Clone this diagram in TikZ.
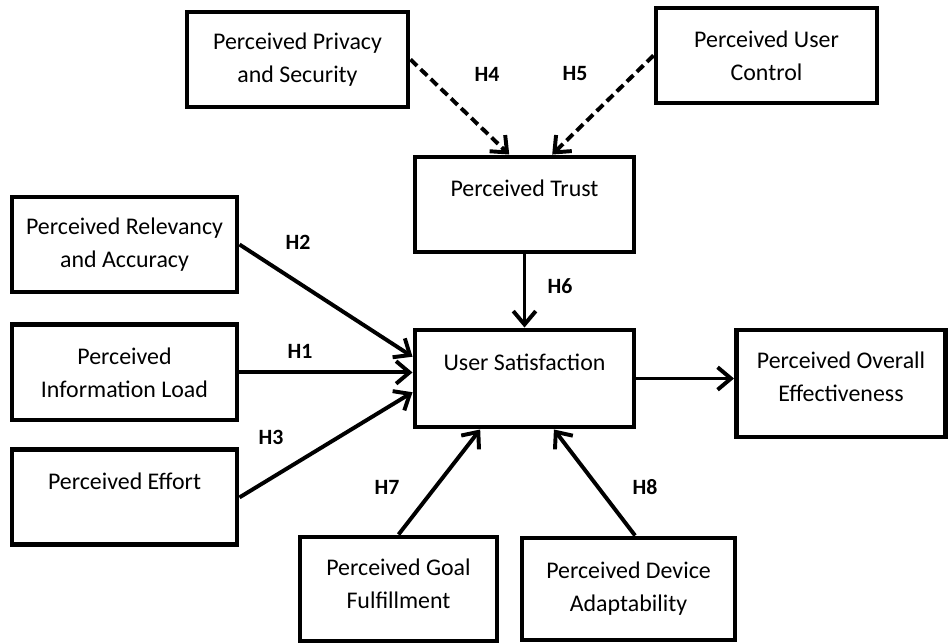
\documentclass[tikz,border=0pt]{standalone}
\usepackage{fontspec}
\setmainfont{Carlito}
\usetikzlibrary{arrows.meta, positioning}

\begin{document}
\begin{tikzpicture}[x=0.025cm, y=-0.025cm, >={Straight Barb[length=9.5pt,width=16pt]}, font=\fontsize{17}{23.5}\selectfont]
    % Styles
    \tikzstyle{factor} = [draw, rectangle, line width=3.5pt, minimum width=5.525cm, minimum height=2.375cm, align=center, inner sep=2pt]
    \tikzstyle{onetop} = [text depth=0.8cm]
    \tikzstyle{link} = [->, line width=2.8pt]
    \tikzstyle{dlink} = [link, dash pattern=on 6.5pt off 3.5pt]
    \tikzstyle{hyp} = [font=\fontsize{15.5}{17}\selectfont\bfseries]

    \useasboundingbox (0,0) rectangle (948,643);

    % Nodes
    \node (privacy) [factor] at (297.5,59.5) {Perceived Privacy\\and Security};
    \node (control) [factor] at (766.5,55.5) {Perceived User\\Control};
    \node (trust) [factor, onetop, minimum width=5.475cm] at (524.5,204.5) {Perceived Trust};

    % Left column
    \node (relev) [factor, minimum width=5.625cm] at (124.5,244.5) {Perceived Relevancy\\and Accuracy};
    \node (info) [factor, minimum width=5.625cm, below=0.7cm of relev] {Perceived\\Information Load};
    \node (effort) [factor, onetop, minimum width=5.625cm, below=0.625cm of info] {Perceived Effort};

    % Centre and right
    \node (us) [factor, onetop, minimum width=5.475cm, minimum height=2.425cm] at (524.5,378.5) {User Satisfaction};
    \node (overall) [factor, text depth=0.35cm, minimum width=5.225cm, minimum height=2.675cm] at (841,383.5) {Perceived Overall\\Effectiveness};

    % Bottom row
    \node (goal) [factor, text depth=0.25cm, minimum width=4.925cm, minimum height=2.6cm] at (398.5,589) {Perceived Goal\\Fulfillment};
    \node (device) [factor, minimum width=5.325cm, minimum height=2.55cm] at (628.5,589) {Perceived Device\\Adaptability};

    % Hypothesis labels
    \node (h1) [hyp] at (300,351) {H1};
    \node (h2) [hyp] at (298,242) {H2};
    \node (h3) [hyp] at (271,437) {H3};
    \node (h4) [hyp] at (487,74) {H4};
    \node (h5) [hyp] at (575,74) {H5};
    \node (h6) [hyp] at (560,286) {H6};
    \node (h7) [hyp] at (387,487) {H7};
    \node (h8) [hyp] at (645,487) {H8};

    % Paths
    \draw [dlink] (privacy.east) -- (trust.107);
    \draw [dlink] (control.west) -- (trust.61);
    \draw [link] (trust.south) -- (us.north);

    \draw [link] (relev.east) -- (us.169);
    \draw [link] (info.east) -- (info.east -| us.west);
    \draw [link] (effort.east) -- (us.187);

    \draw [link] (us.east) -- (us.east -| overall.west);

    \draw [link] (goal.north) -- (us.229);
    \draw [link] (device.83) -- (us.300);

\end{tikzpicture}
\end{document}
